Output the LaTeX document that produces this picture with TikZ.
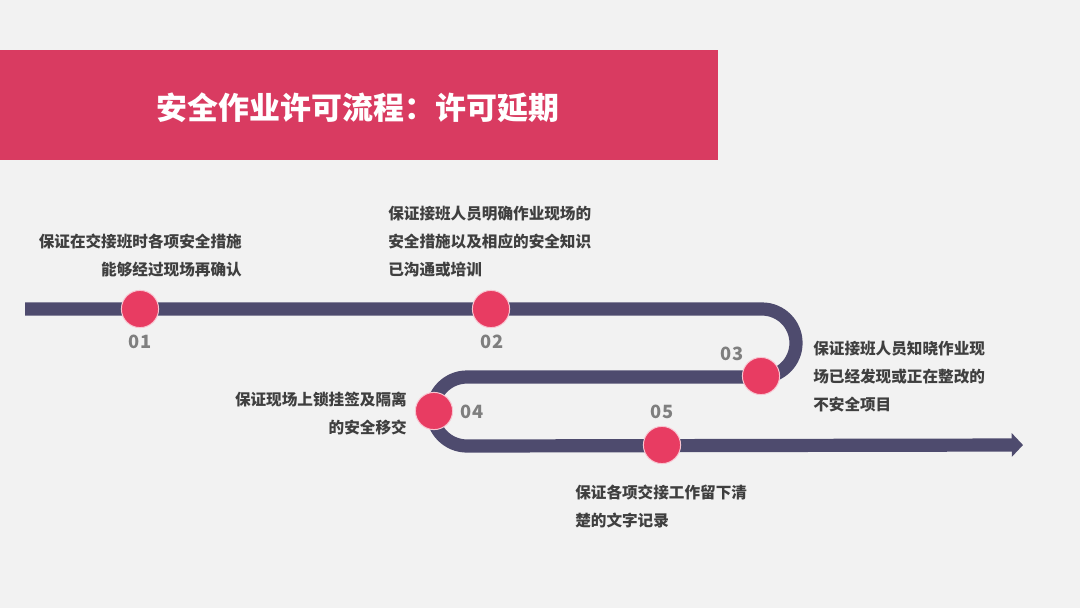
\documentclass[tikz,border=0pt]{standalone}
\usepackage{fontspec}
\newfontfamily\cjk{Noto Sans CJK SC}
\usetikzlibrary{arrows.meta}
\definecolor{bgGray}{HTML}{F2F2F2}
\definecolor{barRed}{HTML}{D93B61}
\definecolor{dotRed}{HTML}{E83C62}
\definecolor{trackBlue}{HTML}{4E4B6E}
\definecolor{numGray}{HTML}{7F7F7F}
\definecolor{txtGray}{HTML}{3F3F3F}
\tikzset{
  dot/.style={circle, fill=dotRed, draw=white!70!dotRed, line width=0.7pt, minimum size=0.93cm, inner sep=0},
  num/.style={text=numGray, font=\cjk\bfseries\fontsize{13}{15}\selectfont, inner sep=0},
  desc/.style={text=txtGray, font=\cjk\bfseries\fontsize{11.1}{19.9}\selectfont, inner sep=0},
}

\begin{document}
\begin{tikzpicture}[x=0.025cm, y=-0.025cm]
\useasboundingbox (0,0) rectangle (1080,608);
\fill[bgGray] (0,0) rectangle (1080,608);
\fill[barRed] (0,50) rectangle (718,160);
\node (title) at (358,108) {\cjk\bfseries\fontsize{22}{26}\selectfont\color{white}安全作业许可流程：许可延期};

\coordinate (start) at (25,309);
\coordinate (turnA) at (762,309);
\coordinate (turnB) at (467,377);
\coordinate (finish) at (1023,445);
\draw[trackBlue, line width=0.33cm, -{Triangle[width=16.5pt, length=8pt]}]
  (start) -- (turnA) arc[start angle=-90, end angle=90, radius=34]
  -- (turnB) arc[start angle=-90, end angle=-270, radius=34.5] -- (finish);

\node[dot] (s1) at (140,309) {};
\node[dot] (s2) at (491,309) {};
\node[dot] (s3) at (761,376) {};
\node[dot] (s4) at (434,411) {};
\node[dot] (s5) at (662,445) {};

\node[num] (n1) at (140,342) {01};
\node[num] (n2) at (492,342) {02};
\node[num] (n3) at (732,354) {03};
\node[num] (n4) at (472,412) {04};
\node[num] (n5) at (662,412) {05};

\node[desc, anchor=east, align=right] (t1) at (242,255.5) {保证在交接班时各项安全措施\\能够经过现场再确认};
\node[desc, anchor=west, align=left] (t2) at (388,241.5) {保证接班人员明确作业现场的\\安全措施以及相应的安全知识\\已沟通或培训};
\node[desc, anchor=west, align=left] (t3) at (813,376.5) {保证接班人员知晓作业现\\场已经发现或正在整改的\\不安全项目};
\node[desc, anchor=east, align=right] (t4) at (407,414) {保证现场上锁挂签及隔离\\的安全移交};
\node[desc, anchor=west, align=left] (t5) at (575,506.5) {保证各项交接工作留下清\\楚的文字记录};
\end{tikzpicture}
\end{document}
